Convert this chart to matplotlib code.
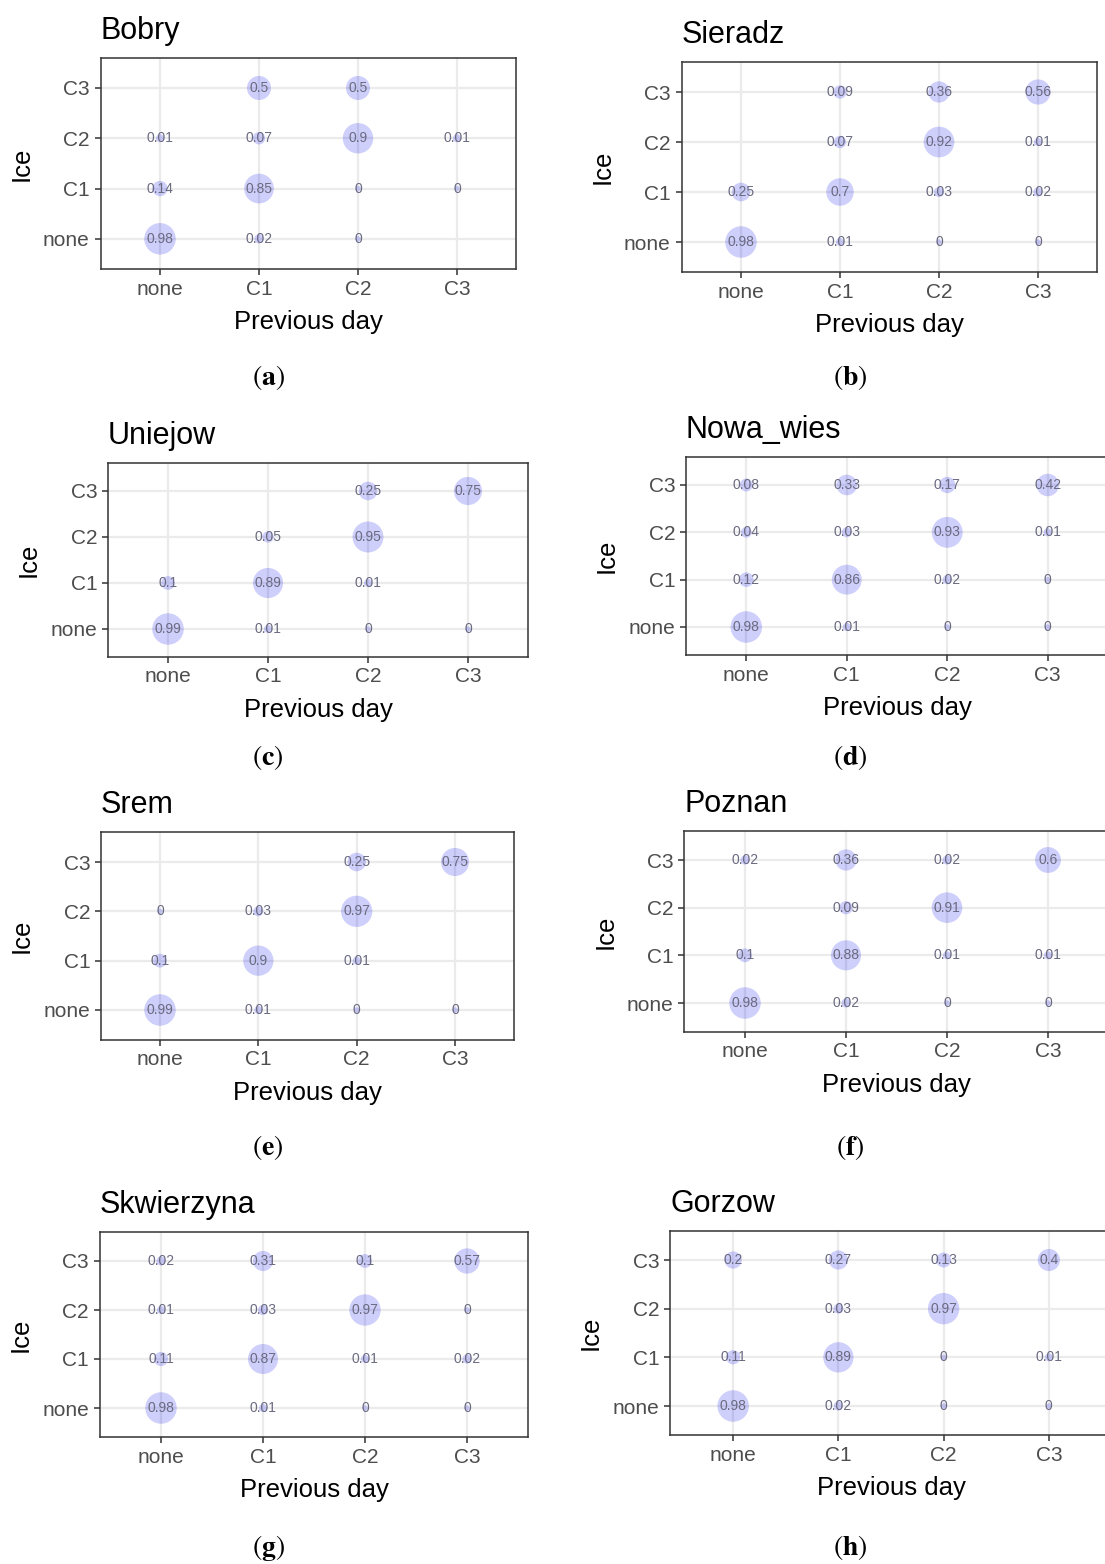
import numpy as np
import matplotlib
matplotlib.use('Agg')
import matplotlib.pyplot as plt

plt.rcParams['font.family'] = ['Liberation Sans', 'DejaVu Sans']
plt.rcParams['mathtext.fontset'] = 'stix'

nan = np.nan

# categorias (eixo y = Ice, eixo x = Previous day)
categorias = ['none', 'C1', 'C2', 'C3']

# probabilidades de transicao: linhas = Ice (none, C1, C2, C3), colunas = Previous day
bobry = [[0.98, 0.02, 0, nan],
         [0.14, 0.85, 0, 0],
         [0.01, 0.07, 0.9, 0.01],
         [nan, 0.5, 0.5, nan]]
sieradz = [[0.98, 0.01, 0, 0],
           [0.25, 0.7, 0.03, 0.02],
           [nan, 0.07, 0.92, 0.01],
           [nan, 0.09, 0.36, 0.56]]
uniejow = [[0.99, 0.01, 0, 0],
           [0.1, 0.89, 0.01, nan],
           [nan, 0.05, 0.95, nan],
           [nan, nan, 0.25, 0.75]]
nowa_wies = [[0.98, 0.01, 0, 0],
             [0.12, 0.86, 0.02, 0],
             [0.04, 0.03, 0.93, 0.01],
             [0.08, 0.33, 0.17, 0.42]]
srem = [[0.99, 0.01, 0, 0],
        [0.1, 0.9, 0.01, nan],
        [0, 0.03, 0.97, nan],
        [nan, nan, 0.25, 0.75]]
poznan = [[0.98, 0.02, 0, 0],
          [0.1, 0.88, 0.01, 0.01],
          [nan, 0.09, 0.91, nan],
          [0.02, 0.36, 0.02, 0.6]]
skwierzyna = [[0.98, 0.01, 0, 0],
              [0.11, 0.87, 0.01, 0.02],
              [0.01, 0.03, 0.97, 0],
              [0.02, 0.31, 0.1, 0.57]]
gorzow = [[0.98, 0.02, 0, 0],
          [0.11, 0.89, 0, 0.01],
          [nan, 0.03, 0.97, nan],
          [0.2, 0.27, 0.13, 0.4]]

estacoes = ['Bobry', 'Sieradz', 'Uniejow', 'Nowa_wies', 'Srem', 'Poznan', 'Skwierzyna', 'Gorzow']
dados = [bobry, sieradz, uniejow, nowa_wies, srem, poznan, skwierzyna, gorzow]
letras = ['a', 'b', 'c', 'd', 'e', 'f', 'g', 'h']

# layout em pixels: (esquerda, topo, direita, base) de cada painel
W, H = 1105, 1564
caixas = [(100.6, 57.8, 516.4, 269), (681.6, 62, 1097.4, 272),
          (108, 463.4, 528, 656.6), (686, 456.6, 1108, 655.4),
          (101, 832.4, 514, 1039.6), (684.4, 831.4, 1108.6, 1031.6),
          (99.8, 1231.6, 528.2, 1437.4), (670, 1230.8, 1112, 1435.2)]
legendas = [(268, 378), (850, 378), (268, 757), (850, 757),
            (268, 1148), (850, 1148), (268, 1548), (850, 1548)]

fig = plt.figure(figsize=(W / 100, H / 100), dpi=100)

for nome, mat, letra, (l, t, r, b), (cx, cy) in zip(estacoes, dados, letras, caixas, legendas):
    ax = fig.add_axes([l / W, 1 - b / H, (r - l) / W, (b - t) / H])
    mat = np.array(mat, dtype=float)
    vmax = np.nanmax(mat)
    for i in range(4):
        for j in range(4):
            v = mat[i, j]
            if np.isnan(v):
                continue
            d = 5.5 + 26 * np.sqrt(v / vmax)  # diametro em px
            ax.scatter(j + 1, i + 1, s=(d * 0.72) ** 2, color='#0000ee', alpha=0.19,
                       edgecolors='none', zorder=3)
            ax.text(j + 1, i + 1, f'{v:g}', ha='center', va='center', fontsize=10,
                    color='#6a6a80', zorder=4)

    ax.set_xlim(0.4, 4.6)
    ax.set_ylim(0.4, 4.6)
    ax.set_xticks([1, 2, 3, 4], categorias)
    ax.set_yticks([1, 2, 3, 4], categorias)
    ax.set_axisbelow(True)
    ax.grid(color='#ebebeb', lw=1.6)
    for s in ax.spines.values():
        s.set_color('#333333')
        s.set_linewidth(1.1)
    ax.tick_params(length=4.3, width=1.1, color='#333333', labelsize=15,
                   labelcolor='#4d4d4d', pad=3.5)

    largura, altura = r - l, b - t
    ax.set_xlabel('Previous day', fontsize=18.5)
    ax.xaxis.label.set_va('baseline')
    ax.xaxis.set_label_coords(0.5, -60 / altura)
    ax.set_ylabel('Ice', fontsize=18.5)
    ax.yaxis.label.set_va('center')
    ax.yaxis.set_label_coords(-79 / largura, 0.5)

    fig.text(l / W, 1 - (t - 19) / H, nome, fontsize=22, ha='left', va='baseline')
    fig.text(cx / W, 1 - cy / H, r'$(\mathbf{' + letra + r'})$', fontsize=20,
             ha='center', va='center')

plt.savefig('out.png', dpi=100)
